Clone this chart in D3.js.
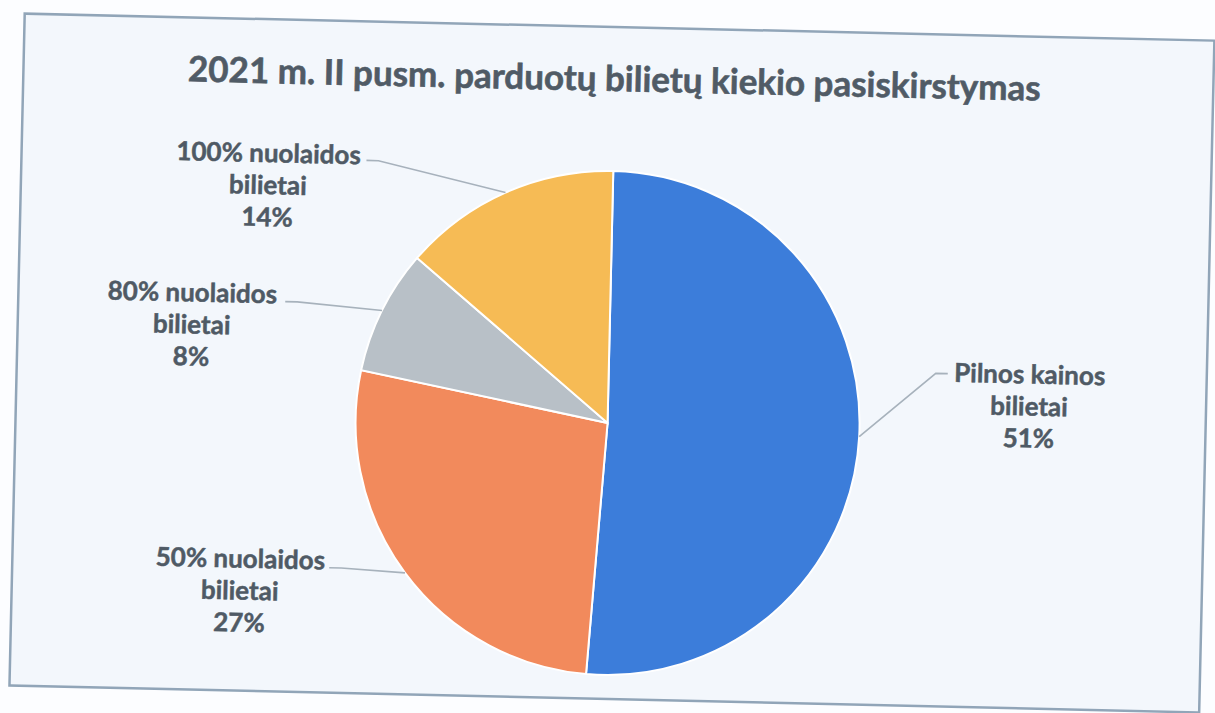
<!DOCTYPE html>
<html>
<head>
<meta charset="utf-8">
<script src="https://cdn.jsdelivr.net/npm/d3@7"></script>
<style>
  body { margin: 0; background: #fcfdff; }
  text { font-family: Lato, "Open Sans", sans-serif; font-weight: bold; }
</style>
</head>
<body>
<div id="chart"></div>
<script>
var svgWidth = 1215;
var svgHeight = 713;

// data
var title = "2021 m. II pusm. parduotų bilietų kiekio pasiskirstymas";
var categories = ["Pilnos kainos", "50% nuolaidos", "80% nuolaidos", "100% nuolaidos"];
var subLabels = ["bilietai", "bilietai", "bilietai", "bilietai"];
var shares = [51, 27, 8, 14];
var colors = ["#3c7dda", "#f28a5c", "#b8c0c7", "#f6bb55"];

// layout of labels (center x, first baseline, leader elbow offset)
var labelPos = [
  { x: 1030, y: 374, ex: -82, ey: -8, dir: 1 },
  { x: 245, y: 576, ex: 89, ey: -2, dir: -1 },
  { x: 191, y: 311, ex: 93, ey: -2, dir: -1 },
  { x: 264, y: 170, ex: 98, ey: -4, dir: -1 }
];

var cx = 609, cy = 423, radius = 252;

var svg = d3.select("#chart")
  .append("svg")
  .attr("width", svgWidth)
  .attr("height", svgHeight);

// the scanned page is turned a little
var page = svg.append("g")
  .attr("transform", "rotate(1.3, 610, 360)");

page.append("rect")
  .attr("x", 17)
  .attr("y", 27)
  .attr("width", 1190)
  .attr("height", 672)
  .attr("fill", "#f3f7fc")
  .attr("stroke", "#91a5b8")
  .attr("stroke-width", 2.5);

page.append("text")
  .attr("x", 608)
  .attr("y", 91)
  .attr("text-anchor", "middle")
  .attr("font-size", "35px")
  .attr("fill", "#505b66")
  .attr("stroke", "#505b66")
  .attr("stroke-width", 0.6)
  .text(title);

var pie = d3.pie().sort(null).value(d => d);
var arcs = pie(shares);

var arc = d3.arc().innerRadius(0).outerRadius(radius);

var Group = page.append("g")
  .attr("transform", `translate(${cx}, ${cy})`);

Group.selectAll("path")
  .data(arcs)
  .enter()
  .append("path")
  .attr("d", arc)
  .attr("fill", (d, i) => colors[i])
  .attr("stroke", "#ffffff")
  .attr("stroke-width", 2);

// leader lines
Group.selectAll("polyline")
  .data(arcs)
  .enter()
  .append("polyline")
  .attr("points", function(d, i) {
    var a = (d.startAngle + d.endAngle) / 2;
    var px = radius * Math.sin(a), py = -radius * Math.cos(a);
    var lp = labelPos[i];
    var ex = lp.x + lp.ex - cx, ey = lp.y + lp.ey - cy;
    return [[px, py], [ex - lp.dir * 12, ey], [ex, ey]].join(" ");
  })
  .attr("fill", "none")
  .attr("stroke", "#a7b2bc")
  .attr("stroke-width", 1.6);

var labels = page.selectAll(".lbl")
  .data(arcs)
  .enter()
  .append("text")
  .attr("class", "lbl")
  .attr("text-anchor", "middle")
  .attr("font-size", "26px")
  .attr("fill", "#4f5a65")
  .attr("stroke", "#4f5a65")
  .attr("stroke-width", 0.5);

labels.each(function(d, i) {
  var t = d3.select(this);
  var lp = labelPos[i];
  [categories[i], subLabels[i], shares[i] + "%"].forEach(function(s, k) {
    t.append("tspan")
      .attr("x", lp.x)
      .attr("y", lp.y + k * 32)
      .text(s);
  });
});
</script>
</body>
</html>
